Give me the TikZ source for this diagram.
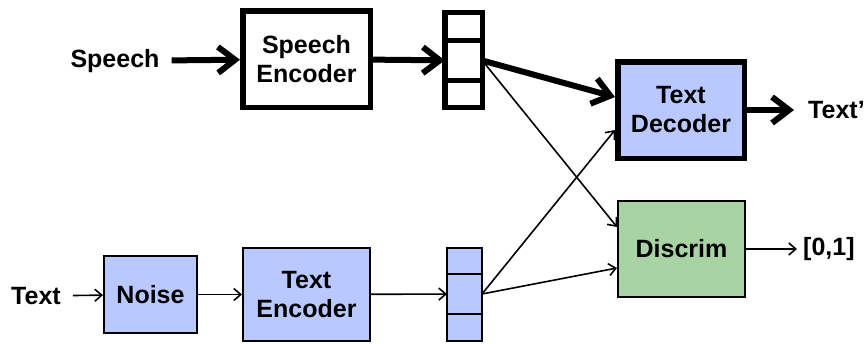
\documentclass[tikz,border=0pt]{standalone}
\usepackage{fontspec}
\setmainfont{Liberation Sans}
\usetikzlibrary{arrows.meta, calc}

\definecolor{boxblue}{RGB}{185,201,255}
\definecolor{boxgreen}{RGB}{168,212,164}

\begin{document}
\begin{tikzpicture}[x=1pt, y=-1pt,
    font=\fontsize{25}{29}\selectfont\bfseries,
    block/.style={draw, align=center, inner sep=0pt},
    heavy/.style={block, line width=5.5pt},
    light/.style={block, line width=2pt},
    cell/.style={draw, inner sep=0pt, outer sep=0pt, minimum width=#1},
    lbl/.style={inner sep=#1},
    lbl/.default=12pt,
    bigarrow/.style={line width=6pt, -{Straight Barb[length=17pt, width=26pt]}},
    smallarrow/.style={line width=1.6pt, -{Straight Barb[length=7pt, width=12pt]}}]
    \useasboundingbox (0,0) rectangle (868,343);

    % top row: speech branch
    \node[lbl] (speech) at (115,61) {Speech};
    \node[heavy, minimum width=127.5pt, minimum height=96.5pt] (senc) at (306.5,59) {Speech\\Encoder};
    \node[cell=37.5pt, line width=5.5pt, minimum height=27.75pt] (ts1) at (463.5,26.6) {};
    \node[cell=37.5pt, line width=5.5pt, minimum height=40pt] (ts2) at (463.5,60.5) {};
    \node[cell=37.5pt, line width=5.5pt, minimum height=26.75pt] (ts3) at (463.5,93.9) {};

    % right side
    \node[heavy, fill=boxblue, minimum width=126.5pt, minimum height=96.5pt] (dec) at (681,110) {Text\\Decoder};
    \node[lbl=14pt, anchor=west] (textout) at (794,110) {Text’};
    \node[light, fill=boxgreen, minimum width=127pt, minimum height=96pt] (disc) at (681.5,249) {Discrim};
    \node[lbl=6pt, anchor=west] (score) at (797,249) {[0,1]};

    % bottom row: text branch
    \node[lbl] (text) at (36,296) {Text};
    \node[light, fill=boxblue, minimum width=93pt, minimum height=77pt] (noise) at (150.5,294.5) {Noise};
    \node[light, fill=boxblue, minimum width=127pt, minimum height=93pt] (tenc) at (306.5,294.5) {Text\\Encoder};
    \node[cell=35pt, line width=1.6pt, fill=boxblue, minimum height=26pt] (bs1) at (464.5,261) {};
    \node[cell=35pt, line width=1.6pt, fill=boxblue, minimum height=40pt] (bs2) at (464.5,294) {};
    \node[cell=35pt, line width=1.6pt, fill=boxblue, minimum height=27pt] (bs3) at (464.5,327.5) {};

    \draw[bigarrow] (speech) -- (senc);
    \draw[bigarrow] (senc) -- (ts2);
    \draw[bigarrow] (ts2.east) -- ($(dec.west)+(0,-13)$);
    \draw[bigarrow] (dec) -- (textout);
    \draw[smallarrow] (ts2.east) -- ($(disc.west)+(0,-22)$);
    \draw[smallarrow] (bs2.east) -- ($(dec.west)+(0,20)$);
    \draw[smallarrow] (bs2.east) -- ($(disc.west)+(0,19)$);
    \draw[smallarrow] (disc) -- (score);
    \draw[smallarrow] (text) -- (noise);
    \draw[smallarrow] (noise) -- (tenc);
    \draw[smallarrow] (tenc) -- (bs2);
\end{tikzpicture}
\end{document}
